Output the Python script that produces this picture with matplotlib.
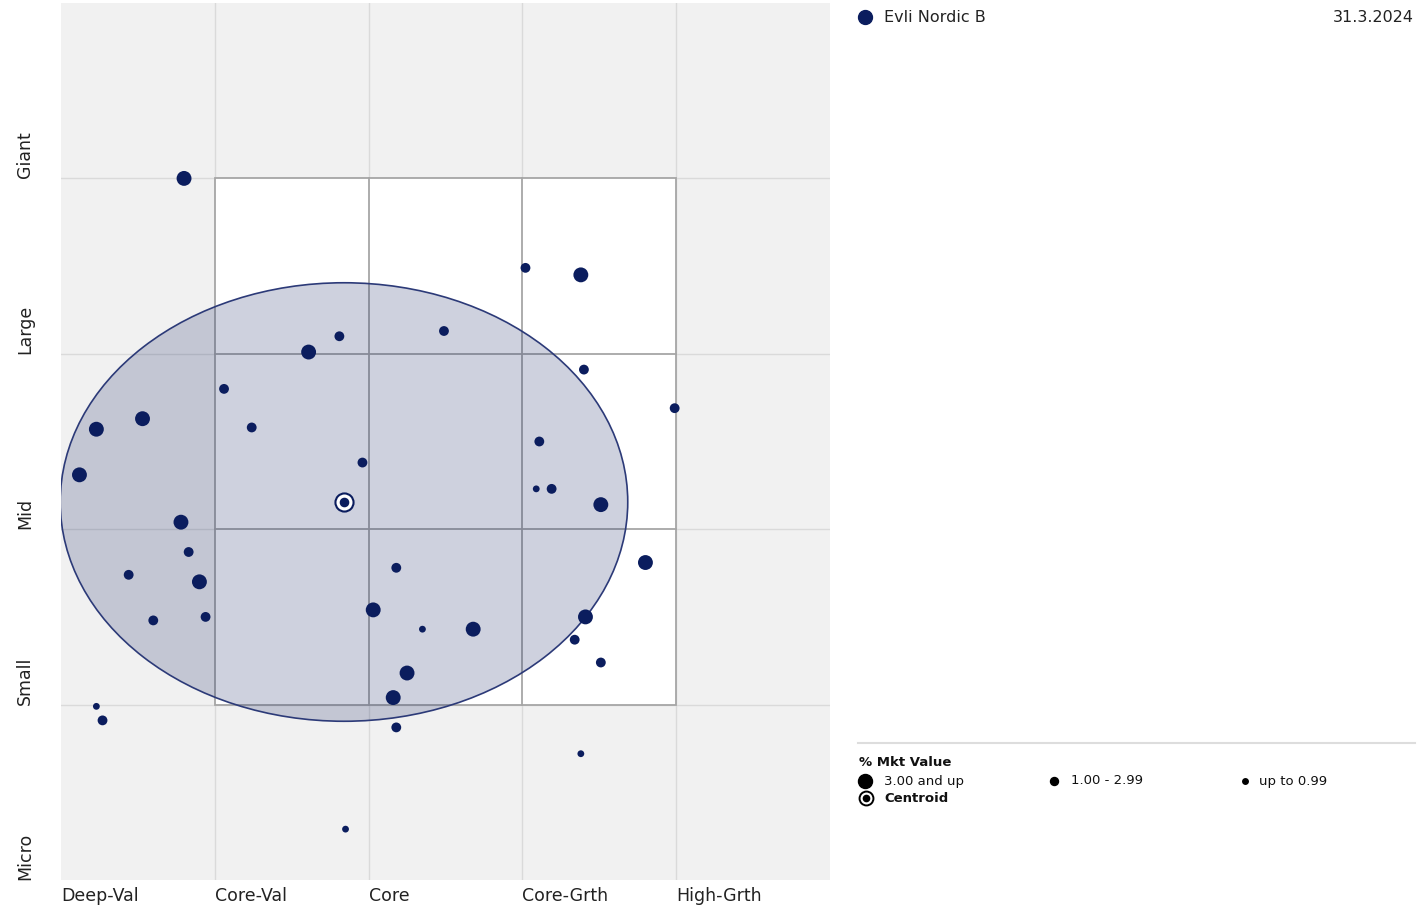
import matplotlib.pyplot as plt
from matplotlib.patches import Ellipse, Rectangle
from matplotlib.lines import Line2D

# stock positions: style score (0-5) and size score (0-5)
style_x = [0.80, 0.23, 0.53, 0.12, 1.06, 1.24, 1.61, 1.81, 2.49, 1.96,
           0.78, 0.83, 0.44, 0.90, 0.60, 0.94, 0.23, 0.27, 2.18, 2.03,
           2.35, 2.68, 2.25, 2.16, 2.18, 1.85, 3.02, 3.38, 3.40, 3.99,
           3.11, 3.09, 3.19, 3.51, 3.80, 3.41, 3.34, 3.51, 3.38]
size_y = [4.00, 2.57, 2.63, 2.31, 2.80, 2.58, 3.01, 3.10, 3.13, 2.38,
          2.04, 1.87, 1.74, 1.70, 1.48, 1.50, 0.99, 0.91, 1.78, 1.54,
          1.43, 1.43, 1.18, 1.04, 0.87, 0.29, 3.49, 3.45, 2.91, 2.69,
          2.50, 2.23, 2.23, 2.14, 1.81, 1.50, 1.37, 1.24, 0.72]
# % market value band: 3 = 3.00 and up, 2 = 1.00 - 2.99, 1 = up to 0.99
weight_band = [3, 3, 3, 3, 2, 2, 3, 2, 2, 2,
               3, 2, 2, 3, 2, 2, 1, 2, 2, 3,
               1, 3, 3, 3, 2, 1, 2, 3, 2, 2,
               2, 1, 2, 3, 3, 3, 2, 2, 1]

centroid = (1.84, 2.155)
ellipse_w, ellipse_h = 3.69, 2.50

style_labels = ["Deep-Val", "Core-Val", "Core", "Core-Grth", "High-Grth"]
size_labels = ["Micro", "Small", "Mid", "Large", "Giant"]

fund_name = "Evli Nordic B"
as_of = "31.3.2024"

navy = "#0b1d5e"
band_size = {3: 115, 2: 50, 1: 24}

fig = plt.figure(figsize=(14.19, 9.08), dpi=100)
ax = fig.add_axes([61 / 1419, 28 / 908, 769 / 1419, 877 / 908])
ax.set_xlim(0, 5)
ax.set_ylim(0, 5)
ax.set_facecolor("#f1f1f1")
for s in ax.spines.values():
    s.set_visible(False)
ax.set_xticks([])
ax.set_yticks([])

# outer light grid
for v in range(1, 5):
    ax.axvline(v, color="#dadada", lw=1, zorder=1)
    ax.axhline(v, color="#dadada", lw=1, zorder=1)

# white 3x3 box with darker lines
ax.add_patch(Rectangle((1, 1), 3, 3, facecolor="white", edgecolor="#a6a6a6",
                       lw=1.3, zorder=2))
for v in (2, 3):
    ax.plot([v, v], [1, 4], color="#a6a6a6", lw=1.3, zorder=3)
    ax.plot([1, 4], [v, v], color="#a6a6a6", lw=1.3, zorder=3)

# holdings ellipse
ax.add_patch(Ellipse(centroid, ellipse_w, ellipse_h, facecolor=navy, alpha=0.2,
                     edgecolor="none", zorder=4))
ax.add_patch(Ellipse(centroid, ellipse_w, ellipse_h, facecolor="none",
                     edgecolor="#2c3a78", lw=1.2, zorder=5))

sizes = [band_size[b] for b in weight_band]
ax.scatter(style_x, size_y, s=sizes, color=navy, edgecolors="none", zorder=6)

# centroid
ax.scatter([centroid[0]], [centroid[1]], s=170, facecolor="white",
           edgecolors=navy, linewidths=1.5, zorder=7)
ax.scatter([centroid[0]], [centroid[1]], s=35, color=navy, zorder=8)

# axis labels
for i, lab in enumerate(style_labels):
    ax.text(i, -0.09, lab, ha="left", va="center", fontsize=12.5,
            color="#222222", clip_on=False)
for i, lab in enumerate(size_labels):
    ax.text(-0.235, i, lab, ha="center", va="bottom", rotation=90,
            fontsize=12.5, color="#222222", clip_on=False)

# header
fig.lines.append(Line2D([865 / 1419], [1 - 17 / 908], marker="o", ms=10,
                        color=navy, transform=fig.transFigure))
fig.text(884 / 1419, 1 - 17 / 908, fund_name, ha="left", va="center",
         fontsize=11.5, color="#222222")
fig.text(1414 / 1419, 1 - 17 / 908, as_of, ha="right", va="center",
         fontsize=11.5, color="#222222")

# legend
fig.lines.append(Line2D([858 / 1419, 1415 / 1419], [1 - 743 / 908] * 2,
                        color="#dddddd", lw=1.5, transform=fig.transFigure))
fig.text(859 / 1419, 1 - 763 / 908, "% Mkt Value", ha="left", va="center",
         fontsize=9.5, fontweight="bold", color="#111111")
legend_rows = [(865, 14, "3.00 and up", 884), (1054, 8, "1.00 - 2.99", 1071),
               (1245, 5.5, "up to 0.99", 1259)]
for mx, ms, txt, tx in legend_rows:
    fig.lines.append(Line2D([mx / 1419], [1 - 781 / 908], marker="o", ms=ms * 0.72,
                            color="black", transform=fig.transFigure))
    fig.text(tx / 1419, 1 - 781 / 908, txt, ha="left", va="center",
             fontsize=9.5, color="#111111")
fig.lines.append(Line2D([866 / 1419], [1 - 798 / 908], marker="o", ms=10,
                        mfc="white", mec="black", mew=1.4,
                        transform=fig.transFigure))
fig.lines.append(Line2D([866 / 1419], [1 - 798 / 908], marker="o", ms=4.5,
                        color="black", transform=fig.transFigure))
fig.text(884 / 1419, 1 - 798 / 908, "Centroid", ha="left", va="center",
         fontsize=9.5, fontweight="bold", color="#111111")

fig.savefig("out.png", dpi=100)
